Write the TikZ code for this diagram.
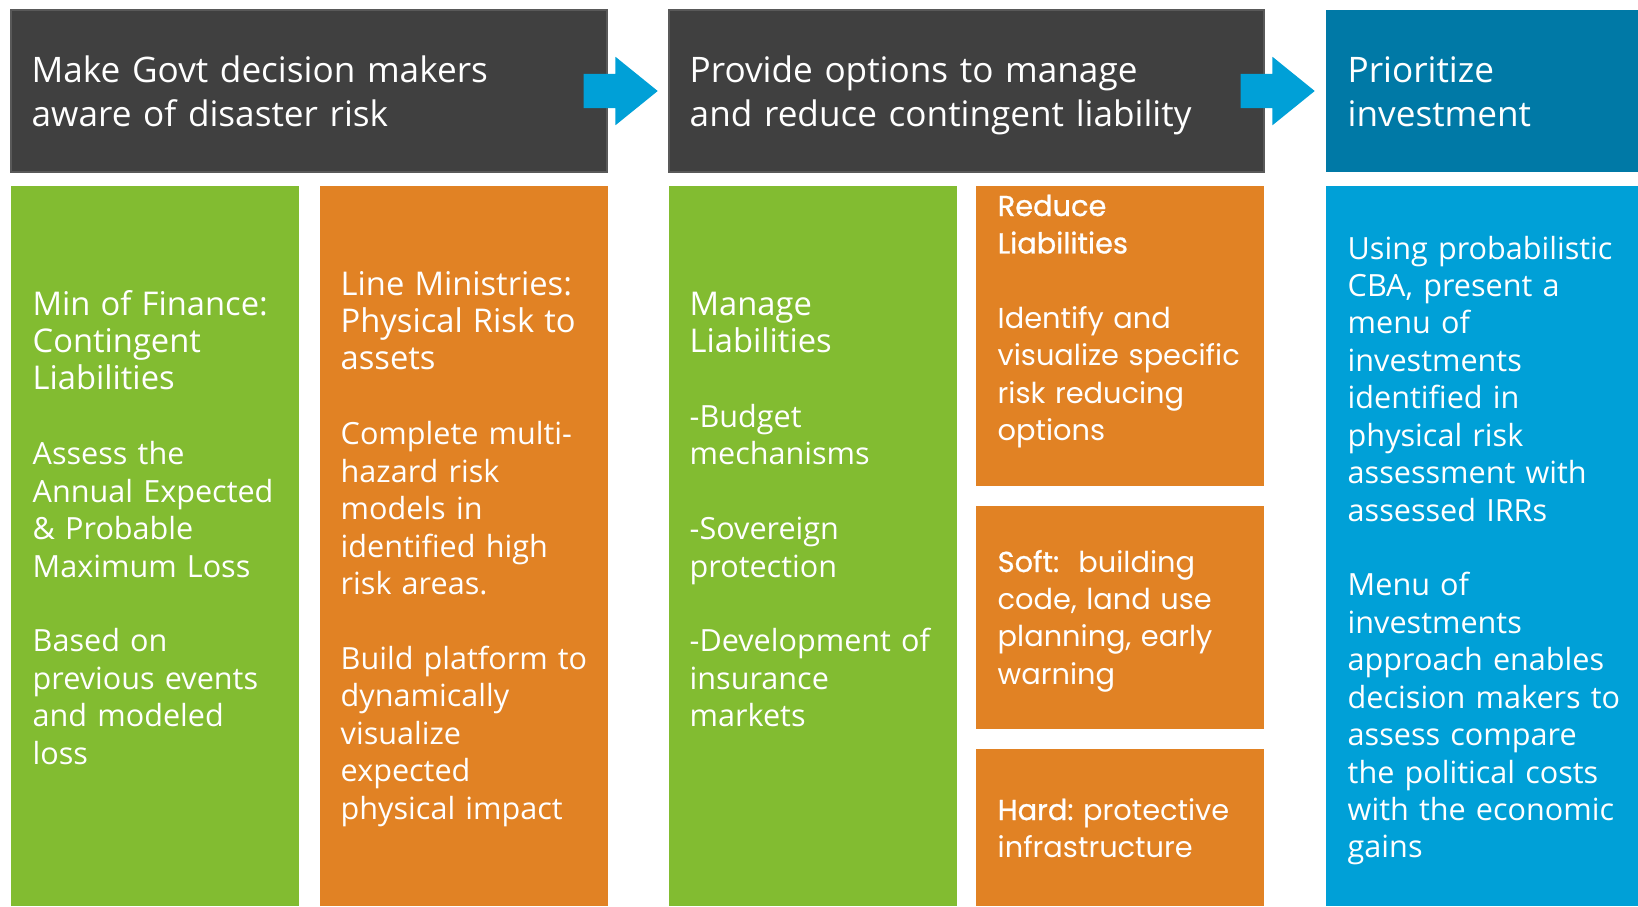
\documentclass[tikz,border=0pt]{standalone}
\usepackage{fontspec}
\setmainfont{Open Sans}
\newfontfamily\geofont{Poppins}
\newfontfamily\geomed[FakeBold=0.9]{Poppins}
\usetikzlibrary{shapes.arrows,positioning}
\definecolor{hdgray}{HTML}{404040}
\definecolor{hdblue}{HTML}{0079A6}
\definecolor{colgreen}{HTML}{82BC31}
\definecolor{colorange}{HTML}{E18224}
\definecolor{colblue}{HTML}{00A0D7}
\newcommand{\colhdfont}{\fontsize{9.3}{10.65}\selectfont}
\frenchspacing

\begin{document}
\begin{tikzpicture}[
        box/.style={rectangle, anchor=north west, inner sep=0pt, outer sep=0pt},
        head/.style={box, minimum height=1.62cm},
        col/.style={box, minimum width=2.88cm},
        txt/.style={anchor=base west, inner sep=0pt, text=white, align=left, text width=#1, font=\fontsize{8.7}{10.65}\selectfont},
        txt/.default=2.9cm,
        htxt/.style={txt=5.6cm, font=\fontsize{10}{12.8}\selectfont},
        gtxt/.style={txt, font=\geofont\fontsize{8.2}{10.65}\selectfont},
        blockarrow/.style={single arrow, fill=colblue, anchor=tail, minimum height=0.74cm, text height=0.165cm, text depth=0.165cm, inner sep=0pt, single arrow head extend=0.17cm, single arrow tip angle=78}
    ]
        \useasboundingbox (0,0) rectangle (16.38,-9.06);

        % headers
        \node[head, fill=hdgray, draw=gray!70!black, line width=0.4pt, minimum width=5.96cm] (h1) at (0.11,-0.10) {};
        \node[head, fill=hdgray, draw=gray!70!black, line width=0.4pt, minimum width=5.95cm] (h2) at (6.69,-0.10) {};
        \node[head, fill=hdblue, minimum width=3.12cm] (h3) at (13.26,-0.10) {};

        \node[htxt] (h1t) at (0.31,-0.82) {Make Govt decision makers\\aware of disaster risk};
        \node[htxt] (h2t) at (6.89,-0.82) {Provide options to manage\\and reduce contingent liability};
        \node[htxt] (h3t) at (13.47,-0.82) {Prioritize\\investment};

        \node[blockarrow] (a1) at ([xshift=-0.24cm]h1.east) {};
        \node[blockarrow] (a2) at ([xshift=-0.24cm]h2.east) {};

        % columns
        \node[col, fill=colgreen, minimum height=7.20cm] (g1) at (0.11,-1.86) {};
        \node[col, fill=colorange, minimum height=7.20cm] (o1) at (3.20,-1.86) {};
        \node[col, fill=colgreen, minimum height=7.20cm] (g2) at (6.69,-1.86) {};
        \node[col, fill=colorange, minimum height=3.00cm] (r1) at (9.76,-1.86) {};
        \node[col, fill=colorange, minimum height=2.23cm] (r2) at (9.76,-5.06) {};
        \node[col, fill=colorange, minimum height=1.57cm] (r3) at (9.76,-7.49) {};
        \node[box, fill=colblue, minimum width=3.12cm, minimum height=7.20cm] (b1) at (13.26,-1.86) {};

        \node[txt] (g1t) at (0.32,-3.15) {{\colhdfont Min of Finance:\\Contingent\\Liabilities}\\[10.65pt]Assess the\\Annual Expected\\\& Probable\\Maximum Loss\\[10.65pt]Based on\\previous events\\and modeled\\loss};
        \node[txt] (o1t) at (3.40,-2.95) {{\colhdfont Line Ministries:\\Physical Risk to\\assets}\\[10.65pt]Complete multi-\\hazard risk\\models in\\identified high\\risk areas.\\[10.65pt]Build platform to\\dynamically\\visualize\\expected\\physical impact};
        \node[txt] (g2t) at (6.89,-3.15) {{\colhdfont Manage\\Liabilities}\\[10.65pt]-Budget\\mechanisms\\[10.65pt]-Sovereign\\protection\\[10.65pt]-Development of\\insurance\\markets};
        \node[gtxt] (r1t) at (9.97,-2.16) {{\geomed Reduce\\Liabilities}\\[10.65pt]Identify and\\visualize specific\\risk reducing\\options};
        \node[gtxt] (r2t) at (9.97,-5.72) {{\geomed Soft:}\ \ building\\code, land use\\planning, early\\warning};
        \node[gtxt] (r3t) at (9.97,-8.20) {{\geomed Hard:} protective\\infrastructure};
        \node[txt] (b1t) at (13.47,-2.59) {Using probabilistic\\CBA, present a\\menu of\\investments\\identified in\\physical risk\\assessment with\\assessed IRRs\\[10.65pt]Menu of\\investments\\approach enables\\decision makers to\\assess compare\\the political costs\\with the economic\\gains};
    \end{tikzpicture}
\end{document}
